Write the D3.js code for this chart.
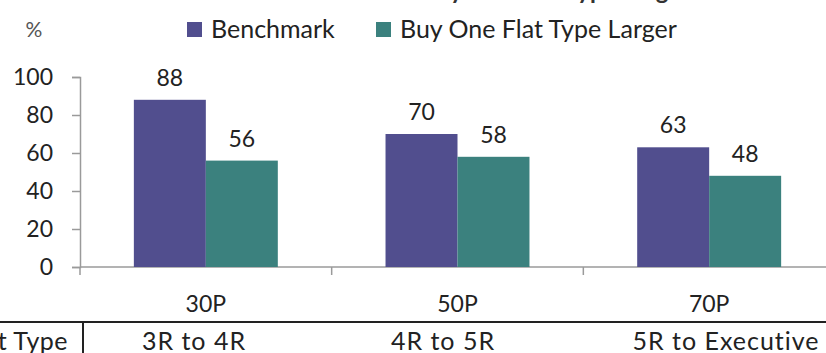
<!DOCTYPE html>
<html>
<head>
<meta charset="utf-8">
<script src="https://cdn.jsdelivr.net/npm/d3@7"></script>
<style>
  html, body { margin: 0; padding: 0; background: #fff; }
  svg { display: block; }
  text { font-family: Lato, "Open Sans", sans-serif; }
</style>
</head>
<body>
<svg id="chart" width="826" height="353"></svg>
<script>
// ---- data ----
const categories = ["30P", "50P", "70P"];
const flatTypes = ["3R to 4R", "4R to 5R", "5R to Executive"];
const seriesNames = ["Benchmark", "Buy One Flat Type Larger"];
const benchmark = [88, 70, 63];
const buyLarger = [56, 58, 48];
const yTicks = [0, 20, 40, 60, 80, 100];
const titleText = "Benchmark vs Buy One Flat Type Larger";
const yUnit = "%";
const rowHeader = "Flat Type";

const colors = ["#514e8e", "#3b817e"];
const seriesValues = [benchmark, buyLarger];

const svg = d3.select("#chart");
const W = 826, H = 353;
const plotLeft = 80, plotRight = 835, plotTop = 77, plotBottom = 267;

const x0 = d3.scaleBand().domain(categories).range([plotLeft, plotRight])
  .paddingInner(0.428).paddingOuter(0.214);
const x1 = d3.scaleBand().domain(seriesNames).range([0, x0.bandwidth()]).padding(0);
const y = d3.scaleLinear().domain([0, 100]).range([plotBottom, plotTop]);

const textColor = "#222";
const axisColor = "#9a9a9a";

// title (cut off at top)
svg.append("text").attr("x", 690).attr("y", -1).attr("text-anchor", "end")
  .attr("font-size", 24).attr("font-weight", "bold").attr("fill", "#333").text(titleText);

// % unit
svg.append("text").attr("x", 34).attr("y", 37).attr("text-anchor", "middle")
  .attr("font-size", 21).attr("fill", "#555").text(yUnit);

// legend
const legendX = [187, 376];
seriesNames.forEach((name, i) => {
  const g = svg.append("g").attr("transform", `translate(${legendX[i]},0)`);
  g.append("rect").attr("x", 0).attr("y", 22).attr("width", 15).attr("height", 15).attr("fill", colors[i]);
  g.append("text").attr("x", 24).attr("y", 38).attr("font-size", 25).attr("fill", textColor).text(name);
});

// y axis
const yAxis = d3.axisLeft(y).tickValues(yTicks).tickSize(8).tickPadding(19);
const yg = svg.append("g").attr("transform", `translate(${plotLeft},0)`).call(yAxis);
yg.select(".domain").attr("stroke", axisColor).attr("stroke-width", 1.5);
yg.selectAll(".tick line").attr("stroke", axisColor).attr("stroke-width", 1.5);
yg.selectAll(".tick text").attr("font-size", 23).attr("fill", textColor)
  .attr("font-family", "Lato, sans-serif");

// x axis baseline and boundary ticks
svg.append("line").attr("x1", plotLeft).attr("x2", W).attr("y1", plotBottom).attr("y2", plotBottom)
  .attr("stroke", axisColor).attr("stroke-width", 1.5);
const step = x0.step();
const boundaries = categories.map(c => x0(c) - x0.paddingInner() * step / 2);
svg.selectAll(".xtick").data(boundaries).join("line").attr("class", "xtick")
  .attr("x1", d => d).attr("x2", d => d).attr("y1", plotBottom).attr("y2", plotBottom + 8)
  .attr("stroke", axisColor).attr("stroke-width", 1.5);

// bars
const groups = svg.selectAll(".grp").data(categories).join("g").attr("class", "grp")
  .attr("transform", c => `translate(${x0(c)},0)`);
groups.selectAll("rect").data((c, ci) => seriesNames.map((s, si) => ({ s, si, v: seriesValues[si][ci] })))
  .join("rect")
  .attr("x", d => x1(d.s)).attr("width", x1.bandwidth())
  .attr("y", d => y(d.v)).attr("height", d => y(0) - y(d.v))
  .attr("fill", d => colors[d.si]);
groups.selectAll("text.val").data((c, ci) => seriesNames.map((s, si) => ({ s, si, v: seriesValues[si][ci] })))
  .join("text").attr("class", "val")
  .attr("x", d => x1(d.s) + x1.bandwidth() / 2).attr("y", d => y(d.v) - 14)
  .attr("text-anchor", "middle").attr("font-size", 23).attr("fill", textColor).text(d => d.v);

// category labels
svg.selectAll(".xlab").data(categories).join("text").attr("class", "xlab")
  .attr("x", c => x0(c) + x0.bandwidth() / 2).attr("y", 312)
  .attr("text-anchor", "middle").attr("font-size", 23).attr("fill", textColor).text(c => c);

// table row
svg.append("line").attr("x1", 0).attr("x2", W).attr("y1", 322).attr("y2", 322)
  .attr("stroke", "#222").attr("stroke-width", 2);
svg.append("line").attr("x1", 83).attr("x2", 83).attr("y1", 322).attr("y2", H)
  .attr("stroke", "#222").attr("stroke-width", 2);
svg.append("text").attr("x", 68).attr("y", 350).attr("text-anchor", "end")
  .attr("font-size", 25).attr("letter-spacing", 0.5).attr("fill", textColor).text(rowHeader);
const colCenters = [194, 443, 726];
svg.selectAll(".ftype").data(flatTypes).join("text").attr("class", "ftype")
  .attr("x", (d, i) => colCenters[i]).attr("y", 350)
  .attr("text-anchor", "middle").attr("font-size", 25).attr("letter-spacing", 1).attr("fill", textColor).text(d => d);
</script>
</body>
</html>
